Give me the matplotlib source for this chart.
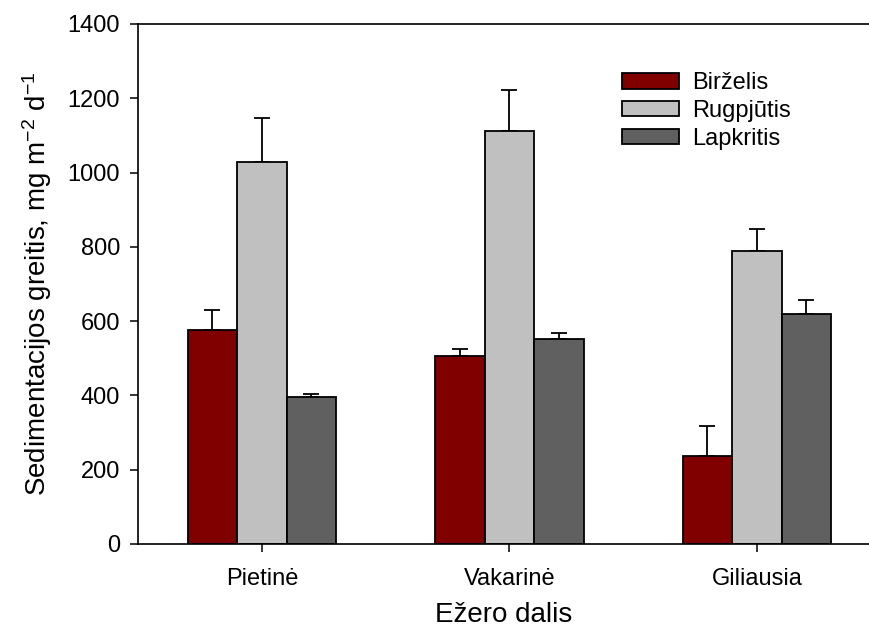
import matplotlib
matplotlib.use('Agg')
import matplotlib.pyplot as plt
import numpy as np

plt.rcParams['font.family'] = ['Liberation Sans', 'DejaVu Sans']
plt.rcParams['mathtext.fontset'] = 'custom'
plt.rcParams['mathtext.rm'] = 'Liberation Sans'
plt.rcParams['mathtext.it'] = 'Liberation Sans'

groups = ['Pietinė', 'Vakarinė', 'Giliausia']
series = ['Birželis', 'Rugpjūtis', 'Lapkritis']
birzelis = [576, 506, 237]
rugpjutis = [1028, 1112, 789]
lapkritis = [397, 552, 619]
err_birzelis = [53, 18, 81]
err_rugpjutis = [118, 110, 59]
err_lapkritis = [8, 15, 37]

colors = ['#800000', '#c0c0c0', '#606060']

fig = plt.figure(figsize=(8.7, 6.37), dpi=100)
ax = fig.add_axes([138/870, 1-544/637, 1-138/870, (544-24)/637])

x = np.arange(len(groups))
w = 0.2
vals = [birzelis, rugpjutis, lapkritis]
errs = [err_birzelis, err_rugpjutis, err_lapkritis]
for i in range(3):
    pos = x + (i - 1) * w
    ax.bar(pos, vals[i], w, color=colors[i], edgecolor='black', linewidth=1.3,
           label=series[i], zorder=2)
    ax.errorbar(pos, vals[i], yerr=[np.zeros(3), errs[i]], fmt='none',
                ecolor='black', elinewidth=1.3, capsize=5.8, capthick=1.3, zorder=1)

ax.set_xlim(-0.501, 2.457)
ax.set_ylim(0, 1400)
ax.set_yticks(range(0, 1401, 200))
ax.set_xticks(x)
ax.set_xticklabels(groups)
ax.tick_params(axis='both', direction='out', length=6, width=1.1, labelsize=17)
ax.tick_params(axis='x', pad=11)
ax.tick_params(axis='y', pad=7)
ax.spines['right'].set_visible(False)
for s in ['left', 'bottom', 'top']:
    ax.spines[s].set_linewidth(1.2)

ax.set_xlabel('Ežero dalis', fontsize=20, labelpad=9)
ax.set_ylabel('Sedimentacijos greitis, mg m$^{-2}$ d$^{-1}$', fontsize=20, labelpad=10)

ax.legend(loc='upper left', bbox_to_anchor=(622/870, 1-72/637),
          bbox_transform=fig.transFigure, frameon=False, fontsize=17,
          handlelength=2.4, handleheight=0.64, labelspacing=0.25,
          handletextpad=0.55, borderpad=0, borderaxespad=0)

fig.savefig('out.png', dpi=100)
